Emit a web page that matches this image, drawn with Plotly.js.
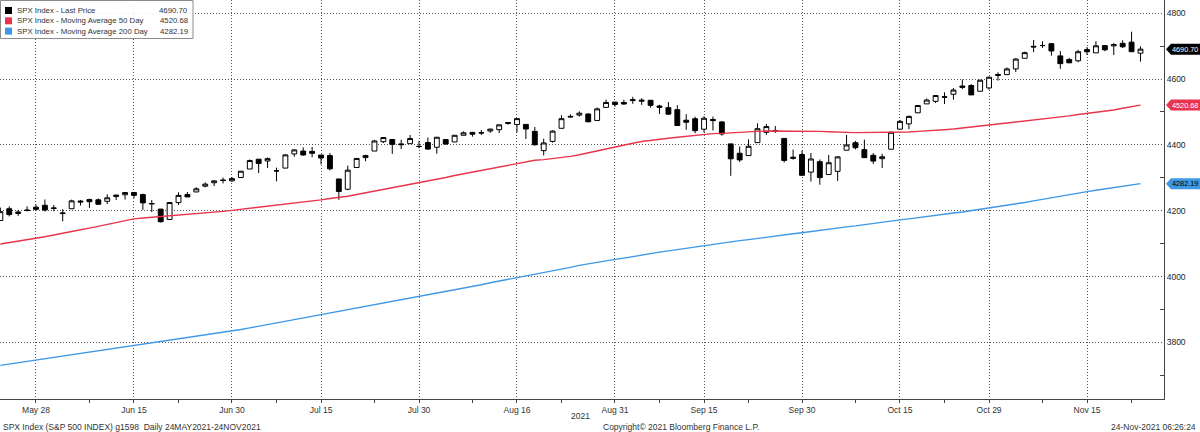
<!DOCTYPE html>
<html><head><meta charset="utf-8">
<script src="https://cdn.plot.ly/plotly-3.0.1.min.js"></script>
<style>html,body{margin:0;padding:0;background:#fff;}#chart{width:1200px;height:432px;}</style>
</head><body><div id="chart"></div>
<script>
const dates = ['2021-05-24','2021-05-25','2021-05-26','2021-05-27','2021-05-28',
'2021-06-01','2021-06-02','2021-06-03','2021-06-04','2021-06-07','2021-06-08','2021-06-09','2021-06-10','2021-06-11',
'2021-06-14','2021-06-15','2021-06-16','2021-06-17','2021-06-18','2021-06-21','2021-06-22','2021-06-23','2021-06-24','2021-06-25',
'2021-06-28','2021-06-29','2021-06-30','2021-07-01','2021-07-02','2021-07-06','2021-07-07','2021-07-08','2021-07-09',
'2021-07-12','2021-07-13','2021-07-14','2021-07-15','2021-07-16','2021-07-19','2021-07-20','2021-07-21','2021-07-22','2021-07-23',
'2021-07-26','2021-07-27','2021-07-28','2021-07-29','2021-07-30','2021-08-02','2021-08-03','2021-08-04','2021-08-05','2021-08-06',
'2021-08-09','2021-08-10','2021-08-11','2021-08-12','2021-08-13','2021-08-16','2021-08-17','2021-08-18','2021-08-19','2021-08-20',
'2021-08-23','2021-08-24','2021-08-25','2021-08-26','2021-08-27','2021-08-30','2021-08-31','2021-09-01','2021-09-02','2021-09-03',
'2021-09-07','2021-09-08','2021-09-09','2021-09-10','2021-09-13','2021-09-14','2021-09-15','2021-09-16','2021-09-17',
'2021-09-20','2021-09-21','2021-09-22','2021-09-23','2021-09-24','2021-09-27','2021-09-28','2021-09-29','2021-09-30','2021-10-01',
'2021-10-04','2021-10-05','2021-10-06','2021-10-07','2021-10-08','2021-10-11','2021-10-12','2021-10-13','2021-10-14','2021-10-15',
'2021-10-18','2021-10-19','2021-10-20','2021-10-21','2021-10-22','2021-10-25','2021-10-26','2021-10-27','2021-10-28','2021-10-29',
'2021-11-01','2021-11-02','2021-11-03','2021-11-04','2021-11-05','2021-11-08','2021-11-09','2021-11-10','2021-11-11','2021-11-12',
'2021-11-15','2021-11-16','2021-11-17','2021-11-18','2021-11-19','2021-11-22','2021-11-23'];

const open = [4170.16,4205.94,4191.59,4201.94,4210.77,
4216.52,4206.82,4191.43,4206.05,4229.34,4233.81,4232.99,4228.56,4242.90,
4248.31,4255.28,4248.87,4220.37,4204.78,4173.40,4224.61,4249.27,4256.97,4274.45,
4284.90,4293.21,4290.65,4300.73,4326.60,4356.46,4351.01,4321.07,4329.38,
4372.41,4381.07,4380.11,4369.02,4367.43,4296.40,4265.11,4331.13,4361.27,4381.20,
4409.58,4416.38,4402.95,4403.59,4395.12,4406.86,4392.74,4415.95,4408.86,4429.07,
4437.77,4435.79,4442.18,4446.08,4464.84,4461.65,4462.12,4440.94,4382.44,4410.56,
4450.29,4484.40,4490.45,4493.75,4474.10,4513.76,4529.75,4528.80,4534.48,4532.42,
4535.38,4518.09,4513.02,4506.92,4474.81,4479.33,4447.49,4477.09,4469.74,
4402.95,4374.45,4367.43,4406.75,4438.04,4442.12,4419.54,4362.41,4370.67,4317.16,
4348.84,4309.87,4319.57,4383.73,4406.51,4385.44,4368.31,4358.01,4386.75,4447.69,
4463.72,4497.34,4524.42,4532.24,4546.12,4553.69,4578.69,4580.22,4562.84,4572.87,
4610.62,4613.34,4630.65,4662.93,4699.26,4701.48,4707.25,4670.26,4659.39,4655.24,
4689.30,4679.42,4701.50,4700.72,4708.44,4712.00,4678.48];

const high = [4209.52,4213.42,4202.61,4213.38,4218.36,
4234.12,4217.37,4204.39,4233.45,4232.34,4236.74,4237.09,4249.74,4248.38,
4255.59,4257.16,4251.89,4232.29,4204.78,4226.24,4255.84,4256.60,4271.28,4286.12,
4292.14,4300.52,4302.43,4320.66,4355.43,4356.46,4361.88,4330.88,4371.60,
4386.68,4392.37,4393.68,4369.02,4375.09,4296.40,4336.84,4359.70,4369.87,4415.18,
4422.73,4416.38,4415.47,4429.97,4412.25,4422.18,4423.79,4416.17,4429.76,4440.82,
4439.39,4445.21,4449.44,4461.77,4468.37,4480.26,4462.12,4454.32,4418.61,4444.35,
4489.88,4492.81,4501.71,4495.90,4513.33,4537.36,4531.39,4537.11,4545.85,4541.45,
4535.38,4521.79,4529.90,4520.47,4492.99,4485.68,4486.87,4485.87,4471.52,
4402.95,4394.87,4416.75,4465.40,4463.12,4457.30,4419.54,4385.57,4382.55,4375.19,
4355.51,4369.23,4365.57,4429.97,4412.02,4415.88,4374.89,4372.87,4439.73,4475.82,
4488.75,4520.40,4540.87,4551.44,4559.67,4572.62,4598.53,4584.57,4597.55,4608.08,
4620.34,4635.15,4663.46,4683.00,4718.50,4714.92,4708.53,4684.85,4664.55,4688.47,
4697.42,4714.95,4701.50,4708.80,4717.75,4743.83,4699.39];

const low = [4170.16,4182.52,4184.11,4197.78,4203.57,
4197.59,4198.27,4167.93,4206.05,4215.66,4208.41,4218.74,4220.34,4232.25,
4234.07,4238.35,4202.45,4196.05,4164.40,4173.40,4217.27,4241.43,4256.97,4271.16,
4274.67,4282.85,4287.96,4300.73,4326.60,4314.37,4329.79,4289.37,4329.38,
4364.03,4366.92,4362.36,4340.70,4322.53,4233.13,4262.05,4331.13,4350.06,4381.20,
4405.45,4372.51,4387.01,4403.59,4389.65,4384.81,4373.00,4400.23,4408.86,4429.07,
4424.74,4430.03,4436.42,4435.96,4460.82,4437.66,4417.83,4397.59,4367.73,4406.80,
4450.29,4482.28,4485.66,4468.99,4474.10,4513.76,4515.80,4522.02,4524.66,4521.30,
4513.00,4493.95,4492.07,4457.66,4445.70,4435.46,4438.37,4443.80,4427.76,
4305.91,4347.96,4367.43,4406.75,4430.27,4436.19,4346.33,4355.08,4306.24,4288.52,
4278.94,4309.87,4290.49,4383.73,4386.22,4360.59,4342.09,4329.92,4386.75,4447.69,
4447.47,4496.41,4524.40,4526.89,4524.00,4537.36,4569.17,4551.66,4562.84,4567.59,
4595.06,4613.34,4621.19,4662.59,4681.32,4694.39,4670.87,4630.86,4648.31,4650.77,
4672.86,4679.42,4684.41,4672.78,4694.22,4682.17,4652.66];

const close = [4197.05,4188.13,4195.99,4200.88,4204.11,
4202.04,4208.12,4192.85,4229.89,4226.52,4227.26,4219.55,4239.18,4247.44,
4255.15,4246.59,4223.70,4221.86,4166.45,4224.79,4246.44,4241.84,4266.49,4280.70,
4290.61,4291.80,4297.50,4319.94,4352.34,4343.54,4358.13,4320.82,4369.55,
4384.63,4369.21,4374.30,4360.03,4327.16,4258.49,4323.06,4358.69,4367.48,4411.79,
4422.30,4401.46,4400.64,4419.15,4395.26,4387.16,4423.15,4402.66,4429.10,4436.52,
4432.35,4436.75,4447.70,4460.83,4468.00,4479.71,4448.08,4400.27,4405.80,4441.67,
4479.53,4486.23,4496.19,4470.00,4509.37,4528.79,4522.68,4524.09,4536.95,4535.43,
4520.03,4514.07,4493.28,4458.58,4468.73,4443.05,4480.70,4473.75,4432.99,
4357.73,4354.19,4395.64,4448.98,4455.48,4443.11,4352.63,4359.46,4307.54,4357.04,
4300.46,4345.72,4363.55,4399.76,4391.34,4361.19,4350.65,4363.80,4438.26,4471.37,
4486.46,4519.63,4536.19,4549.78,4544.90,4566.48,4574.79,4551.68,4596.42,4605.38,
4613.67,4630.65,4660.57,4680.06,4697.53,4701.70,4685.25,4646.71,4649.27,4682.85,
4682.80,4700.90,4688.67,4704.54,4697.96,4682.94,4690.70];

const ma50 = [4099,4103,4107,4111,4115,4121,4126,4132,4137,4142,
4147,4153,4159,4165,4170,4175,4178,4180,4183,4185,
4187,4189,4191,4193,4196,4198,4201,4204,4208,4211,
4215,4218,4221,4224,4227,4230,4233,4237,4240,4244,
4249,4254,4259,4264,4269,4275,4280,4285,4290,4296,
4301,4307,4312,4317,4323,4328,4333,4338,4343,4348,
4353,4355,4358,4361,4365,4370,4376,4382,4389,4395,
4400,4405,4410,4414,4417,4420,4423,4426,4429,4432,
4434,4435,4437,4438,4440,4441,4442,4442,4443,4443,
4443,4442,4441,4440,4438,4438,4437,4437,4437,4437,
4437,4438,4439,4441,4442,4444,4446,4448,4451,4453,
4456,4459,4462,4465,4468,4471,4474,4478,4481,4485,
4488,4492,4495,4498,4502,4506,4511,4516,4520.68];

const ma200 = [3730,3734,3738,3741,3745,3749,3753,3757,3761,3765,
3769,3773,3777,3781,3785,3789,3793,3797,3801,3805,
3809,3813,3817,3821,3825,3830,3834,3839,3844,3849,
3854,3859,3864,3869,3874,3880,3885,3890,3895,3900,
3904,3909,3914,3919,3924,3929,3933,3938,3943,3948,
3954,3959,3965,3970,3975,3981,3986,3991,3996,4001,
4007,4012,4017,4023,4028,4034,4039,4044,4048,4052,
4056,4061,4065,4069,4074,4078,4082,4087,4091,4095,
4098,4102,4105,4109,4112,4116,4119,4123,4126,4130,
4133,4137,4140,4144,4147,4151,4154,4158,4161,4165,
4168,4172,4175,4179,4182,4186,4189,4193,4196,4200,
4203,4207,4212,4216,4221,4225,4230,4235,4239,4244,
4249,4253,4258,4262,4266,4270,4274,4278,4282.19];

const majorTickDates = ['2021-05-28','2021-06-15','2021-06-30','2021-07-15','2021-07-30','2021-08-16','2021-08-31','2021-09-15','2021-09-30','2021-10-15','2021-10-29','2021-11-15'];
const majorTickLabels = ['May 28','Jun 15','Jun 30','Jul 15','Jul 30','Aug 16','Aug 31','Sep 15','Sep 30','Oct 15','Oct 29','Nov 15'];
const minorTickDates = ['2021-06-08','2021-06-22','2021-07-08','2021-07-23','2021-08-09','2021-08-23','2021-09-08','2021-09-22','2021-10-08','2021-10-22','2021-11-08','2021-11-22'];
const yTickVals = [3800,4000,4200,4400,4600,4800];
const yMinorVals = [3700,3900,4100,4300,4500,4700];
const legendNames = ['SPX Index - Last Price','SPX Index - Moving Average 50 Day','SPX Index - Moving Average 200 Day'];
const yearLabel = '2021';
const footerLeft = 'SPX Index (S&P 500 INDEX) g1598  Daily 24MAY2021-24NOV2021';
const footerCenter = 'Copyright\u00A9 2021 Bloomberg Finance L.P.';
const footerRight = '24-Nov-2021 06:26:24';

// ---- styling / layout ----
const FONT = 'Liberation Sans, Arial, sans-serif';
const RED = '#e8344c', BLUE = '#3e98e6', BLACK = '#000000';
const PW = 1164, PH = 399;
const YR = [3628, 4840];
const XR = [-0.04, 130.64];
const fx = p => p / PW;
const fy = p => 1 - p / PH;
const dpp = (YR[1] - YR[0]) / PH;

const idx = dates.map((d, i) => i);
const last = dates.length - 1;

const traces = [
  {type:'scatter', mode:'lines', x: idx, y: ma200, line:{color:BLUE, width:1.4}, hoverinfo:'skip'},
  {type:'scatter', mode:'lines', x: idx, y: ma50, line:{color:RED, width:1.4}, hoverinfo:'skip'},
  {type:'candlestick', x: idx, open: open, high: high, low: low, close: close,
   increasing:{line:{color:'#000', width:1}, fillcolor:'#ffffff'},
   decreasing:{line:{color:'#000', width:1}, fillcolor:'#000000'},
   whiskerwidth:0, hoverinfo:'skip'}
];

const shapes = [];
const annotations = [];

// legend box
shapes.push({type:'rect', xref:'paper', yref:'paper', x0:fx(0.5), x1:fx(193), y0:fy(38.5), y1:fy(0.5),
  line:{color:'#8c8c8c', width:1}, fillcolor:'rgba(255,255,255,0.9)', layer:'above'});
const legendColors = [BLACK, RED, BLUE];
const legendVals = [close[last], ma50[last], ma200[last]];
const rowY = [10.5, 20.8, 31.1];
legendNames.forEach((n, i) => {
  shapes.push({type:'rect', xref:'paper', yref:'paper', x0:fx(5), x1:fx(12), y0:fy(rowY[i]+3.5), y1:fy(rowY[i]-3.5),
    line:{width:0}, fillcolor:legendColors[i], layer:'above'});
  annotations.push({xref:'paper', yref:'paper', x:fx(14.5), y:fy(rowY[i]), xanchor:'left', yanchor:'middle',
    text:n, showarrow:false, font:{family:FONT, size:7.8, color:'#333'}});
  annotations.push({xref:'paper', yref:'paper', x:fx(190), y:fy(rowY[i]), xanchor:'right', yanchor:'middle',
    text:legendVals[i].toFixed(2), showarrow:false, font:{family:FONT, size:7.8, color:'#333'}});
});

// right-side price tags
const tagColors = [BLACK, RED, BLUE];
const tagText = ['#ffffff', '#ffffff', '#000000'];
legendVals.forEach((v, i) => {
  const h = 5.5 * dpp;
  shapes.push({type:'path', xref:'paper', yref:'y', layer:'above',
    path:`M ${fx(1166)},${v} L ${fx(1171)},${v+h} L ${fx(1201)},${v+h} L ${fx(1201)},${v-h} L ${fx(1171)},${v-h} Z`,
    fillcolor:tagColors[i], line:{width:0}});
  annotations.push({xref:'paper', yref:'y', x:fx(1171), y:v, xanchor:'left', yanchor:'middle', borderpad:0,
    text:v.toFixed(2), showarrow:false, font:{family:FONT, size:7.3, color:tagText[i]}});
});

// bottom texts
annotations.push({xref:'paper', yref:'paper', x:fx(580), y:0, yshift:-17, xanchor:'center', yanchor:'middle',
  text:yearLabel, showarrow:false, font:{family:FONT, size:8.5, color:'#333'}});
annotations.push({xref:'paper', yref:'paper', x:fx(1), y:0, yshift:-28, xanchor:'left', yanchor:'middle',
  text:footerLeft, showarrow:false, font:{family:FONT, size:8.5, color:'#333'}});
annotations.push({xref:'paper', yref:'paper', x:fx(681), y:0, yshift:-28, xanchor:'center', yanchor:'middle',
  text:footerCenter, showarrow:false, font:{family:FONT, size:8.5, color:'#333'}});
annotations.push({xref:'paper', yref:'paper', x:fx(1198), y:0, yshift:-28, xanchor:'right', yanchor:'middle',
  text:footerRight, showarrow:false, font:{family:FONT, size:8.5, color:'#333'}});

const layout = {
  width:1200, height:432,
  margin:{l:0, r:36, t:0, b:33, pad:0},
  paper_bgcolor:'#ffffff', plot_bgcolor:'#ffffff',
  showlegend:false,
  boxgap:0.22,
  font:{family:FONT, size:8.5, color:'#333'},
  xaxis:{type:'linear', range:XR, fixedrange:true,
    tickmode:'array', tickvals: majorTickDates.map(d => dates.indexOf(d)), ticktext: majorTickLabels,
    showgrid:true, gridcolor:'#555', griddash:'1px,2px', gridwidth:1,
    ticks:'outside', ticklen:3, tickcolor:'#444', tickwidth:1,
    showline:true, linecolor:'#444', linewidth:1, zeroline:false,
    tickfont:{family:FONT, size:8.5, color:'#333'},
    minor:{tickmode:'array', tickvals: minorTickDates.map(d => dates.indexOf(d)), ticks:'outside', ticklen:3, tickcolor:'#444', showgrid:false},
    rangeslider:{visible:false}},
  yaxis:{side:'right', range:YR, fixedrange:true,
    tickmode:'array', tickvals:yTickVals, tickprefix:'\u25BA',
    showgrid:true, gridcolor:'#555', griddash:'1px,2px', gridwidth:1,
    ticks:'', showline:true, linecolor:'#444', linewidth:1, zeroline:false,
    tickfont:{family:FONT, size:8.5, color:'#222'},
    minor:{tickmode:'array', tickvals:yMinorVals, ticks:'inside', ticklen:4, tickcolor:'#444', showgrid:false}},
  shapes: shapes,
  annotations: annotations
};

Plotly.newPlot('chart', traces, layout, {displayModeBar:false, staticPlot:true});
</script></body></html>
